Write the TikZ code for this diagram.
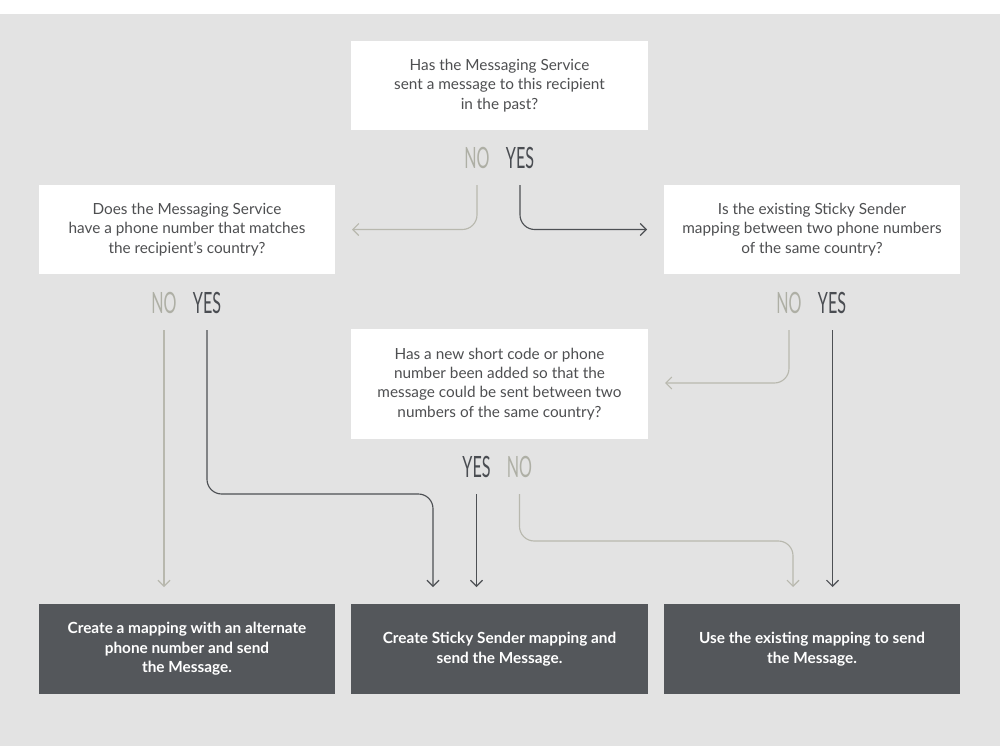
\documentclass[tikz,border=0pt]{standalone}
\usepackage{fontspec}
\setmainfont{Lato}
\usetikzlibrary{arrows.meta}
\definecolor{bg}{HTML}{E3E3E3}
\definecolor{qtext}{HTML}{4E4F51}
\definecolor{darkbox}{HTML}{54575B}
\definecolor{noc}{HTML}{AEAFA5}
\definecolor{yesc}{HTML}{4A4D52}
\definecolor{lnlight}{HTML}{B8B8AE}
\definecolor{lndark}{HTML}{4D5054}
\tikzset{
  qbox/.style={fill=white, draw=none, minimum width=222.5pt, minimum height=66.75pt, align=center, text=qtext, font=\fontsize{11.5}{14.4}\selectfont, inner sep=0pt},
  abox/.style={fill=darkbox, draw=none, minimum width=222.5pt, minimum height=68pt, align=center, text=white, font=\fontsize{11.5}{14.6}\selectfont\bfseries, inner sep=0pt},
  nolab/.style={text=noc, inner sep=0pt, font=\fontsize{22}{22}\selectfont},
  yeslab/.style={text=yesc, inner sep=0pt, font=\fontsize{22}{22}\selectfont},
  lightarrow/.style={draw=lnlight, line width=0.85pt, rounded corners=11pt, -{Straight Barb[length=4.5pt,width=9pt]}},
  darkarrow/.style={draw=lndark, line width=0.85pt, rounded corners=11pt, -{Straight Barb[length=4.5pt,width=9pt]}}
}
\newcommand{\cond}[1]{\scalebox{0.55}[1]{#1}}
\begin{document}
\begin{tikzpicture}[x=0.75pt,y=-0.75pt]
\useasboundingbox (0,0) rectangle (1000,750);
\fill[white] (0,0) rectangle (1000,750);
\fill[bg] (0,14) rectangle (1000,746);

% question boxes
\node[qbox] (q1) at (499.5,85.5) {Has the Messaging Service\\sent a message to this recipient\\in the past?};
\node[qbox] (q2) at (187,229.5) {Does the Messaging Service\\have a phone number that matches\\the recipient’s country?};
\node[qbox] (q3) at (812,229.5) {Is the existing Sticky Sender\\mapping between two phone numbers\\of the same country?};
\node[qbox, minimum height=82.5pt] (q4) at (499.5,384) {Has a new short code or phone\\number been added so that the\\message could be sent between two\\numbers of the same country?};

% answer boxes
\node[abox] (a1) at (187,649) {Create a mapping with an alternate\\phone number and send\\the Message.};
\node[abox] (a2) at (499.5,649) {Create Sticky Sender mapping and\\send the Message.};
\node[abox] (a3) at (812,649) {Use the existing mapping to send\\the Message.};

% labels
\node[nolab] (q1no) at (477,158) {\cond{NO}};
\node[yeslab] (q1yes) at (520,158) {\cond{YES}};
\node[nolab] (q2no) at (164,303) {\cond{NO}};
\node[yeslab] (q2yes) at (207,303) {\cond{YES}};
\node[nolab] (q3no) at (789,303) {\cond{NO}};
\node[yeslab] (q3yes) at (832,303) {\cond{YES}};
\node[yeslab] (q4yes) at (476.5,467) {\cond{YES}};
\node[nolab] (q4no) at (519.5,467) {\cond{NO}};

% free ends / starts
\coordinate (s1no) at (477,185);
\coordinate (s1yes) at (520,185);
\coordinate (e1no) at (352,229.5);
\coordinate (e1yes) at (647,229.5);
\coordinate (s2no) at (164,330);
\coordinate (s2yes) at (207,330);
\coordinate (s3no) at (789,330);
\coordinate (s3yes) at (832.5,330);
\coordinate (e3no) at (665,383);
\coordinate (s4yes) at (476.5,494);
\coordinate (s4no) at (519.5,494);
\coordinate (t1) at (164,587);
\coordinate (t2a) at (433,587);
\coordinate (t2b) at (476.5,587);
\coordinate (t3a) at (793,587);
\coordinate (t3b) at (832.5,587);

% connectors
\draw[lightarrow] (s1no) |- (e1no);
\draw[darkarrow] (s1yes) |- (e1yes);
\draw[lightarrow] (s2no) -- (t1);
\draw[darkarrow] (s2yes) -- (207,494) -- (433,494) -- (t2a);
\draw[lightarrow] (s3no) |- (e3no);
\draw[darkarrow] (s3yes) -- (t3b);
\draw[darkarrow] (s4yes) -- (t2b);
\draw[lightarrow] (s4no) -- (519.5,541) -- (793,541) -- (t3a);
\end{tikzpicture}
\end{document}
